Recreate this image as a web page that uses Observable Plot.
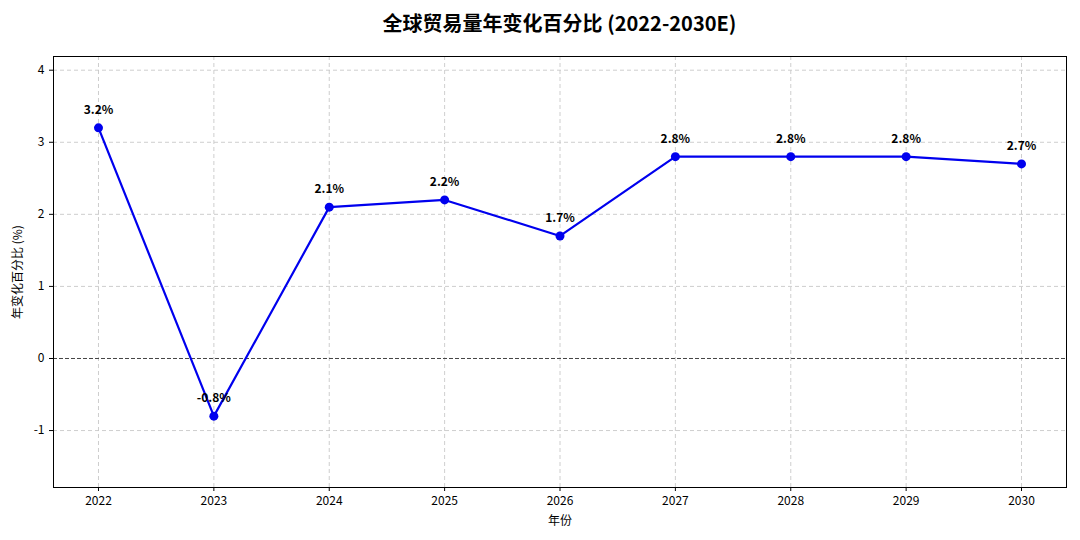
<!DOCTYPE html>
<html><head><meta charset="utf-8">
<script src="https://cdn.jsdelivr.net/npm/d3@7"></script>
<script src="https://cdn.jsdelivr.net/npm/@observablehq/plot@0.6"></script>
<style>
body{margin:0;background:#fff;font-family:"Noto Sans CJK SC","Noto Sans",sans-serif;}
#title{height:40px;line-height:46px;text-align:center;font-size:20px;font-weight:bold;color:#000;padding-left:39px;}
</style></head><body>
<div id="title">全球贸易量年变化百分比 (2022-2030E)</div>
<div id="chart"></div>
<script>
const years = [2022, 2023, 2024, 2025, 2026, 2027, 2028, 2029, 2030];
const values = [3.2, -0.8, 2.1, 2.2, 1.7, 2.8, 2.8, 2.8, 2.7];
const yTicks = [-1, 0, 1, 2, 3, 4];
const data = years.map((y, i) => ({year: y, value: values[i], label: values[i].toFixed(1) + "%"}));

const chart = Plot.plot({
  width: 1080, height: 500,
  marginTop: 16, marginBottom: 53, marginLeft: 53, marginRight: 14,
  style: {fontFamily: '"Noto Sans CJK SC","Noto Sans",sans-serif', fontSize: "12px", color: "#000", background: "#fff"},
  x: {domain: [2021.61, 2030.39]},
  y: {domain: [-1.79, 4.19]},
  marks: [
    Plot.ruleY(yTicks.filter(d => d !== 0), {stroke: "#c8c8c8", strokeDasharray: "4,3", strokeWidth: 0.9}),
    Plot.ruleX(years, {stroke: "#c8c8c8", strokeDasharray: "4,3", strokeWidth: 0.9}),
    Plot.ruleY([0], {stroke: "#444", strokeDasharray: "4,2", strokeWidth: 1}),
    Plot.line(data, {x: "year", y: "value", stroke: "#0000ee", strokeWidth: 2.2}),
    Plot.dot(data, {x: "year", y: "value", fill: "#0000ee", r: 4.5}),
    Plot.text(data, {x: "year", y: "value", text: "label", dy: -18, fontWeight: "bold", fontSize: 12, fill: "#000"}),
    Plot.frame({stroke: "#000", strokeWidth: 1}),
    Plot.axisX({ticks: years, tickFormat: d => String(d), tickSize: 4, label: "年份", labelAnchor: "center", labelArrow: "none", labelOffset: 37}),
    Plot.axisY({ticks: yTicks, tickFormat: d => String(d), tickSize: 4, label: "年变化百分比 (%)", labelAnchor: "center", labelArrow: "none", labelOffset: 40})
  ]
});
document.getElementById("chart").appendChild(chart);
</script>
</body></html>
